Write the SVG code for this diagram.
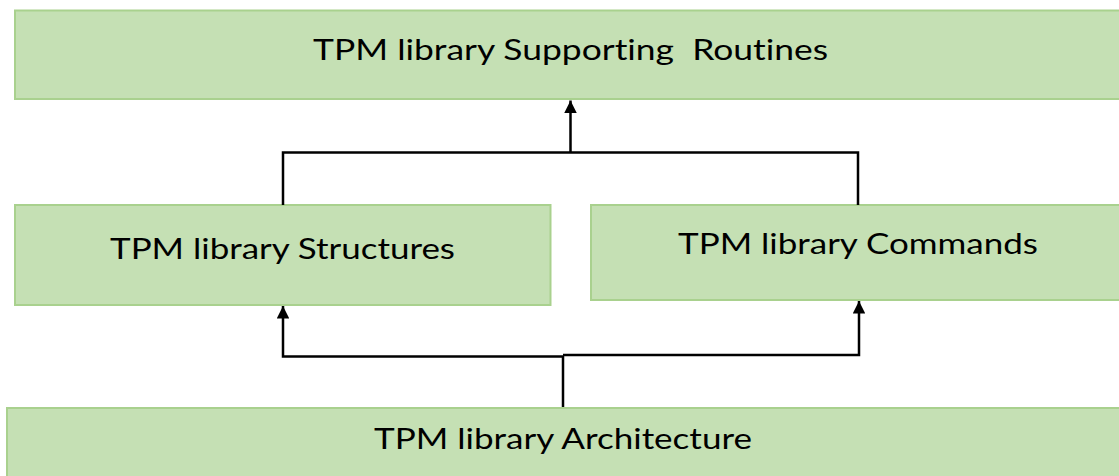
<svg xmlns="http://www.w3.org/2000/svg" width="1119" height="476" viewBox="0 0 1119 476">
<style>
.box{fill:#C5E0B4;stroke:#A9D18E;stroke-width:2}
.lbl{font-family:"Lato","Liberation Sans",sans-serif;font-size:29px;fill:#000;text-anchor:middle;font-variant-ligatures:none;white-space:pre}
.conn{fill:none;stroke:#000;stroke-width:2.5}
</style>
<defs>
<marker id="arr" viewBox="0 0 10 10" refX="10" refY="5" markerWidth="5" markerHeight="5" markerUnits="strokeWidth" orient="auto">
<path d="M0,0 L10,5 L0,10 Z" fill="#000"/>
</marker>
</defs>
<rect x="0" y="0" width="1119" height="476" fill="#fff"/>
<g id="node-routines">
<rect class="box" x="15" y="10.5" width="1110" height="88.5"/>
<text class="lbl" x="570.5" y="60" textLength="515" lengthAdjust="spacingAndGlyphs" xml:space="preserve">TPM library Supporting  Routines</text>
</g>
<g id="node-structures">
<rect class="box" x="15" y="205" width="535.5" height="100"/>
<text class="lbl" x="282.5" y="259" textLength="345" lengthAdjust="spacingAndGlyphs">TPM library Structures</text>
</g>
<g id="node-commands">
<rect class="box" x="591" y="205" width="534" height="95"/>
<text class="lbl" x="858" y="254" textLength="360" lengthAdjust="spacingAndGlyphs">TPM library Commands</text>
</g>
<g id="node-architecture">
<rect class="box" x="7" y="408" width="1120" height="80"/>
<text class="lbl" x="563" y="449" textLength="378" lengthAdjust="spacingAndGlyphs">TPM library Architecture</text>
</g>
<g id="connectors">
<path class="conn" d="M283,205 V152.5 H858 V205"/>
<path class="conn" d="M570.5,152.5 V100.5" marker-end="url(#arr)"/>
<path class="conn" d="M563,407 V356.5 H283 V306" marker-end="url(#arr)"/>
<path class="conn" d="M563,355 H859 V301" marker-end="url(#arr)"/>
</g>
</svg>
